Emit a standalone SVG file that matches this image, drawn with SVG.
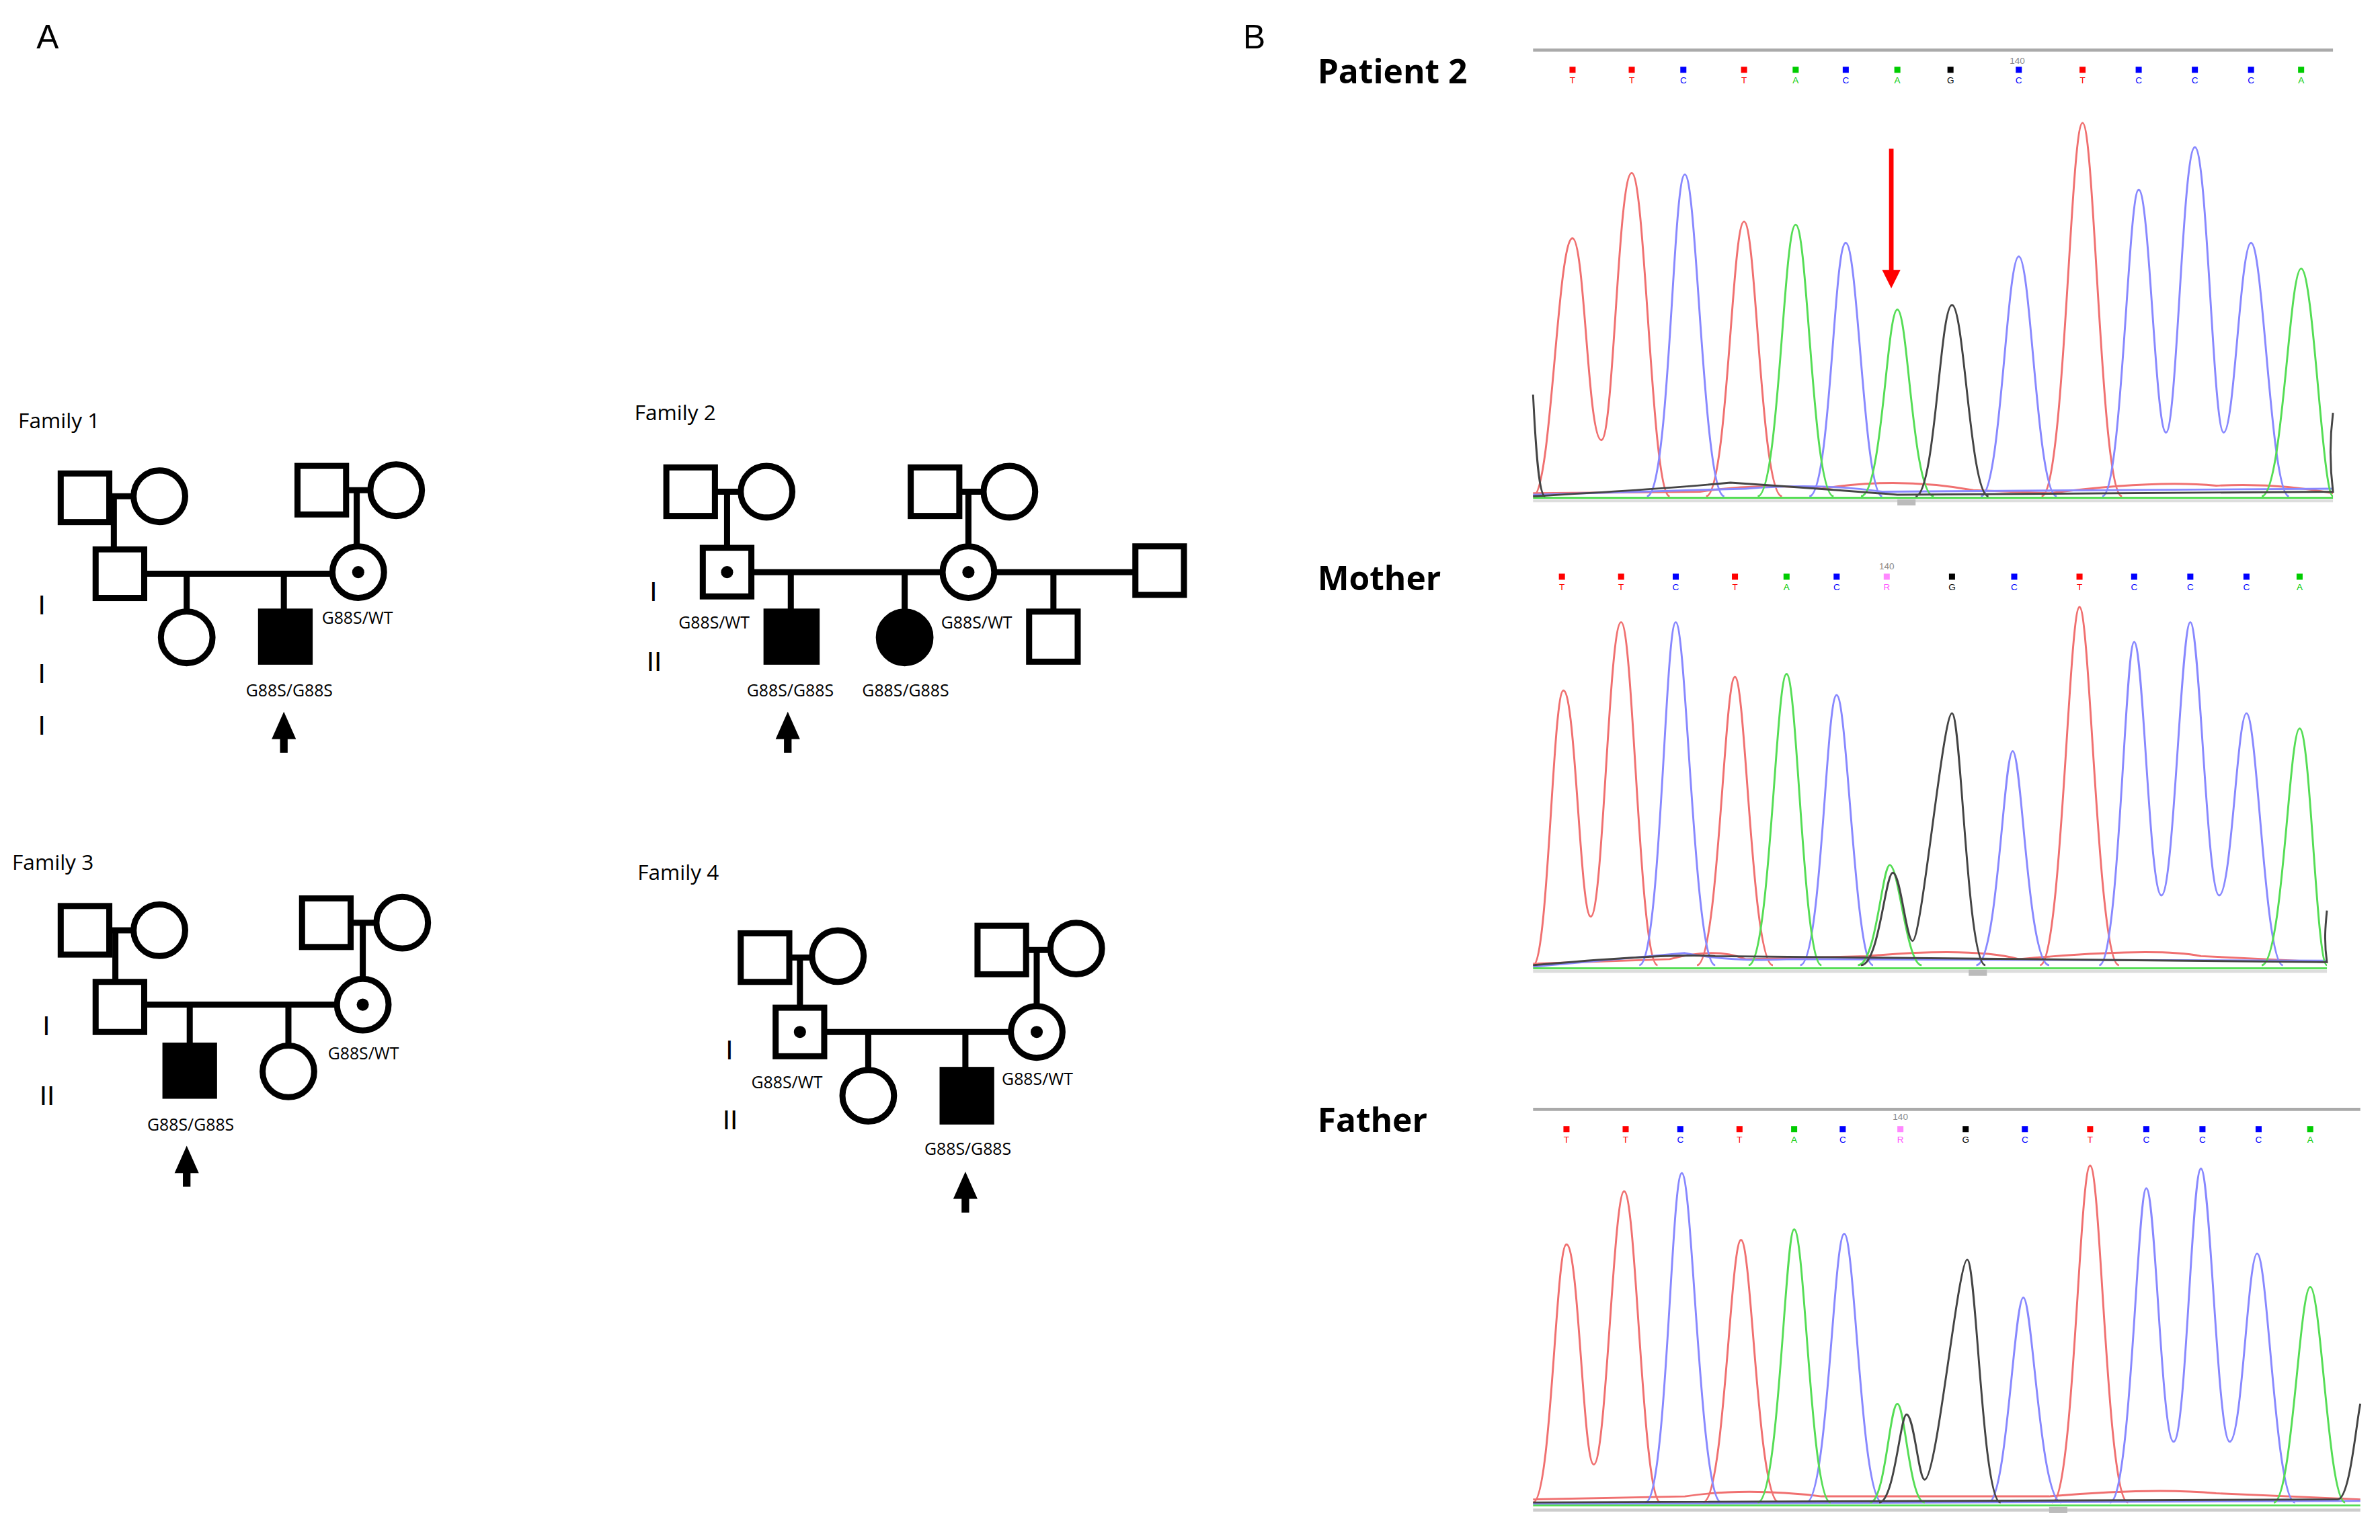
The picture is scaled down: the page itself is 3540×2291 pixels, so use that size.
<svg xmlns="http://www.w3.org/2000/svg" width="3540" height="2291" viewBox="0 0 3540 2291">
<style>
.s{fill:#fff;stroke:#000;stroke-width:4}
.f{fill:#000;stroke:#000;stroke-width:4}
.l{stroke:#000;stroke-width:4;fill:none}
.t{font-family:"Open Sans","Liberation Sans",sans-serif;font-size:11px;fill:#000}
.fam{font-family:"Open Sans","Liberation Sans",sans-serif;font-size:14px;fill:#000}
.g{font-family:"Liberation Sans",sans-serif;font-size:18px;fill:#000}
.p{font-family:"Open Sans","Liberation Sans",sans-serif;font-size:22px;font-weight:bold;fill:#000}
.R{stroke:#f07070;fill:none;stroke-width:1.3}
.B{stroke:#8888ff;fill:none;stroke-width:1.3}
.G{stroke:#55dd55;fill:none;stroke-width:1.3}
.K{stroke:#444;fill:none;stroke-width:1.3}
.m{font-family:"Liberation Sans",sans-serif;font-size:6px;text-anchor:middle}
</style>
<defs>
<g id="arr"><polygon points="0,-13 -8,5 8,5" fill="#000"/><rect x="-2.5" y="4" width="5" height="10" fill="#000"/></g>
</defs>
<rect width="3540" height="2291" fill="#fff"/>
<g transform="scale(2.2577)">
<text x="24" y="32" style="font-family:'Liberation Sans',sans-serif;font-size:22px">A</text>
<text x="819" y="32" style="font-family:'Liberation Sans',sans-serif;font-size:22px">B</text>

<g id="family1">
<text class="fam" x="12" y="282">Family 1</text>
<line class="l" x1="72" y1="327" x2="88" y2="327"/><line class="l" x1="75" y1="327" x2="75" y2="362"/>
<rect class="s" x="40" y="312" width="32" height="32"/><circle class="s" cx="105" cy="327" r="17"/>
<line class="l" x1="228" y1="323" x2="244" y2="323"/><line class="l" x1="235" y1="323" x2="235" y2="360"/>
<rect class="s" x="196" y="307" width="32" height="32"/><circle class="s" cx="261" cy="323" r="17"/>
<line class="l" x1="95" y1="378" x2="219" y2="378"/>
<line class="l" x1="123" y1="378" x2="123" y2="403"/><line class="l" x1="187" y1="378" x2="187" y2="402"/>
<rect class="s" x="63" y="362" width="32" height="32"/>
<circle class="s" cx="236" cy="377" r="17"/><circle cx="236" cy="377" r="4"/>
<circle class="s" cx="123" cy="420" r="17"/>
<rect class="f" x="172" y="403" width="32" height="33"/>
<text class="t" x="212" y="411">G88S/WT</text>
<text class="t" x="162" y="459">G88S/G88S</text>
<use href="#arr" x="187" y="482"/>
<text class="g" x="25" y="405">I</text><text class="g" x="25" y="450">I</text><text class="g" x="25" y="484">I</text>
</g>

<g id="family2">
<text class="fam" x="418" y="277">Family 2</text>
<line class="l" x1="471" y1="324" x2="488" y2="324"/><line class="l" x1="479" y1="324" x2="479" y2="362"/>
<rect class="s" x="439" y="308" width="32" height="32"/><circle class="s" cx="505" cy="324" r="17"/>
<line class="l" x1="632" y1="324" x2="648" y2="324"/><line class="l" x1="638" y1="324" x2="638" y2="360"/>
<rect class="s" x="600" y="308" width="32" height="32"/><circle class="s" cx="665" cy="324" r="17"/>
<line class="l" x1="495" y1="377" x2="748" y2="377"/>
<line class="l" x1="521" y1="377" x2="521" y2="402"/><line class="l" x1="596" y1="377" x2="596" y2="402"/><line class="l" x1="694" y1="377" x2="694" y2="402"/>
<rect class="s" x="463" y="361" width="32" height="32"/><circle cx="479" cy="377" r="4"/>
<circle class="s" cx="638" cy="377" r="17"/><circle cx="638" cy="377" r="4"/>
<rect class="s" x="748" y="360" width="32" height="32"/>
<rect class="f" x="505" y="403" width="33" height="33"/>
<ellipse class="f" cx="596" cy="420" rx="17" ry="17"/>
<rect class="s" x="678" y="403" width="32" height="33"/>
<text class="t" x="447" y="414">G88S/WT</text><text class="t" x="620" y="414">G88S/WT</text>
<text class="t" x="492" y="459">G88S/G88S</text><text class="t" x="568" y="459">G88S/G88S</text>
<use href="#arr" x="519" y="482"/>
<text class="g" x="428" y="396">I</text><text class="g" x="426" y="442">II</text>
</g>

<g id="family3">
<text class="fam" x="8" y="573">Family 3</text>
<line class="l" x1="72" y1="613" x2="88" y2="613"/><line class="l" x1="76" y1="613" x2="76" y2="647"/>
<rect class="s" x="40" y="597" width="32" height="32"/><circle class="s" cx="105" cy="613" r="17"/>
<line class="l" x1="231" y1="608" x2="248" y2="608"/><line class="l" x1="239" y1="608" x2="239" y2="645"/>
<rect class="s" x="199" y="592" width="32" height="32"/><circle class="s" cx="265" cy="608" r="17"/>
<line class="l" x1="95" y1="662" x2="222" y2="662"/>
<line class="l" x1="125" y1="662" x2="125" y2="688"/><line class="l" x1="190" y1="662" x2="190" y2="689"/>
<rect class="s" x="63" y="647" width="32" height="33"/>
<circle class="s" cx="239" cy="662" r="17"/><circle cx="239" cy="662" r="4"/>
<rect class="f" x="109" y="689" width="32" height="33"/>
<circle class="s" cx="190" cy="706" r="17"/>
<text class="t" x="216" y="698">G88S/WT</text>
<text class="t" x="97" y="745">G88S/G88S</text>
<use href="#arr" x="123" y="768"/>
<text class="g" x="28" y="682">I</text><text class="g" x="26" y="728">II</text>
</g>

<g id="family4">
<text class="fam" x="420" y="580">Family 4</text>
<line class="l" x1="520" y1="631" x2="536" y2="631"/><line class="l" x1="527" y1="631" x2="527" y2="664"/>
<rect class="s" x="488" y="615" width="32" height="32"/><circle class="s" cx="552" cy="630" r="17"/>
<line class="l" x1="676" y1="626" x2="692" y2="626"/><line class="l" x1="683" y1="626" x2="683" y2="663"/>
<rect class="s" x="644" y="610" width="32" height="32"/><circle class="s" cx="709" cy="625" r="17"/>
<line class="l" x1="543" y1="680" x2="667" y2="680"/>
<line class="l" x1="572" y1="680" x2="572" y2="705"/><line class="l" x1="636" y1="680" x2="636" y2="704"/>
<rect class="s" x="511" y="664" width="32" height="32"/><circle cx="527" cy="680" r="4"/>
<circle class="s" cx="683" cy="680" r="17"/><circle cx="683" cy="680" r="4"/>
<circle class="s" cx="572" cy="722" r="17"/>
<rect class="f" x="621" y="705" width="32" height="34"/>
<text class="t" x="495" y="717">G88S/WT</text><text class="t" x="660" y="715">G88S/WT</text>
<text class="t" x="609" y="761">G88S/G88S</text>
<use href="#arr" x="636" y="785"/>
<text class="g" x="478" y="698">I</text><text class="g" x="476" y="744">II</text>
</g>

<g id="chrom-patient">
<text class="p" x="868" y="55">Patient 2</text>
<line x1="1010" y1="33" x2="1537" y2="33" stroke="#aaa" stroke-width="2"/>
<text class="m" x="1329" y="42" fill="#888">140</text>
<g class="m">
<rect x="1034" y="44" width="4" height="4" fill="red"/><text x="1036" y="55" fill="red">T</text>
<rect x="1073" y="44" width="4" height="4" fill="red"/><text x="1075" y="55" fill="red">T</text>
<rect x="1107" y="44" width="4" height="4" fill="blue"/><text x="1109" y="55" fill="blue">C</text>
<rect x="1147" y="44" width="4" height="4" fill="red"/><text x="1149" y="55" fill="red">T</text>
<rect x="1181" y="44" width="4" height="4" fill="#0c0"/><text x="1183" y="55" fill="#0c0">A</text>
<rect x="1214" y="44" width="4" height="4" fill="blue"/><text x="1216" y="55" fill="blue">C</text>
<rect x="1248" y="44" width="4" height="4" fill="#0c0"/><text x="1250" y="55" fill="#0c0">A</text>
<rect x="1283" y="44" width="4" height="4" fill="#000"/><text x="1285" y="55">G</text>
<rect x="1328" y="44" width="4" height="4" fill="blue"/><text x="1330" y="55" fill="blue">C</text>
<rect x="1370" y="44" width="4" height="4" fill="red"/><text x="1372" y="55" fill="red">T</text>
<rect x="1407" y="44" width="4" height="4" fill="blue"/><text x="1409" y="55" fill="blue">C</text>
<rect x="1444" y="44" width="4" height="4" fill="blue"/><text x="1446" y="55" fill="blue">C</text>
<rect x="1481" y="44" width="4" height="4" fill="blue"/><text x="1483" y="55" fill="blue">C</text>
<rect x="1514" y="44" width="4" height="4" fill="#0c0"/><text x="1516" y="55" fill="#0c0">A</text>
</g>
<path class="R" d="M1010,327 C1022,327 1026,157 1036,157 C1044,157 1046,290 1055,290 C1063,290 1066,114 1075,114 C1084,114 1088,327 1100,327 M1124,327 C1138,327 1141,146 1149,146 C1157,146 1160,327 1174,327 M1345,327 C1360,327 1364,81 1372,81 C1380,81 1384,327 1398,327 M1010,325 L1120,324 Q1160,318 1200,322 Q1250,314 1300,323 L1350,325 Q1420,316 1460,320 Q1500,318 1537,325"/>
<path class="B" d="M1085,327 C1100,327 1102,115 1110,115 C1118,115 1122,327 1136,327 M1192,327 C1206,327 1208,160 1216,160 C1224,160 1228,327 1240,327 M1305,327 C1318,327 1322,169 1330,169 C1338,169 1342,327 1355,327 M1385,327 C1398,327 1402,125 1409,125 C1416,125 1420,285 1427,285 C1434,285 1438,97 1446,97 C1454,97 1458,285 1465,285 C1472,285 1476,160 1483,160 C1491,160 1496,327 1508,327 M1010,326 L1150,322 Q1200,318 1240,324 L1537,322"/>
<path class="G" d="M1158,327 C1172,327 1175,148 1183,148 C1191,148 1194,327 1208,327 M1226,327 C1240,327 1243,204 1250,204 C1257,204 1260,327 1274,327 M1490,327 C1504,327 1508,177 1516,177 C1524,177 1530,327 1537,327 M1010,328 L1537,328"/>
<path class="K" d="M1010,260 C1012,300 1014,327 1018,327 M1262,327 C1275,327 1278,201 1286,201 C1294,201 1298,327 1310,327 M1010,327 Q1100,322 1140,318 Q1200,322 1250,326 L1537,324 C1534,300 1536,280 1537,272"/>
<line x1="1010" y1="330" x2="1537" y2="330" stroke="#ddd" stroke-width="2"/>
<rect x="1250" y="329" width="12" height="4" fill="#bbb"/>
<line x1="1246" y1="98" x2="1246" y2="180" stroke="red" stroke-width="3"/>
<polygon points="1240,178 1252,178 1246,190" fill="red"/>
</g>

<g id="chrom-mother">
<text class="p" x="868" y="389">Mother</text>
<text class="m" x="1243" y="375" fill="#888">140</text>
<g class="m">
<rect x="1027" y="378" width="4" height="4" fill="red"/><text x="1029" y="389" fill="red">T</text>
<rect x="1066" y="378" width="4" height="4" fill="red"/><text x="1068" y="389" fill="red">T</text>
<rect x="1102" y="378" width="4" height="4" fill="blue"/><text x="1104" y="389" fill="blue">C</text>
<rect x="1141" y="378" width="4" height="4" fill="red"/><text x="1143" y="389" fill="red">T</text>
<rect x="1175" y="378" width="4" height="4" fill="#0c0"/><text x="1177" y="389" fill="#0c0">A</text>
<rect x="1208" y="378" width="4" height="4" fill="blue"/><text x="1210" y="389" fill="blue">C</text>
<rect x="1241" y="378" width="4" height="4" fill="#f8f"/><text x="1243" y="389" fill="#f5f">R</text>
<rect x="1284" y="378" width="4" height="4" fill="#000"/><text x="1286" y="389">G</text>
<rect x="1325" y="378" width="4" height="4" fill="blue"/><text x="1327" y="389" fill="blue">C</text>
<rect x="1368" y="378" width="4" height="4" fill="red"/><text x="1370" y="389" fill="red">T</text>
<rect x="1404" y="378" width="4" height="4" fill="blue"/><text x="1406" y="389" fill="blue">C</text>
<rect x="1441" y="378" width="4" height="4" fill="blue"/><text x="1443" y="389" fill="blue">C</text>
<rect x="1478" y="378" width="4" height="4" fill="blue"/><text x="1480" y="389" fill="blue">C</text>
<rect x="1513" y="378" width="4" height="4" fill="#0c0"/><text x="1515" y="389" fill="#0c0">A</text>
</g>
<path class="R" d="M1010,636 C1020,636 1023,455 1030,455 C1038,455 1041,604 1048,604 C1056,604 1060,410 1068,410 C1076,410 1080,636 1092,636 M1118,636 C1132,636 1136,446 1143,446 C1150,446 1154,636 1168,636 M1344,636 C1358,636 1363,400 1370,400 C1377,400 1382,636 1396,636 M1010,635 L1100,632 Q1130,624 1150,632 L1230,630 Q1300,624 1330,632 Q1420,624 1450,630 L1533,634"/>
<path class="B" d="M1080,636 C1094,636 1097,410 1104,410 C1111,410 1116,636 1130,636 M1186,636 C1200,636 1203,458 1210,458 C1217,458 1222,636 1234,636 M1302,636 C1316,636 1320,495 1326,495 C1332,495 1336,636 1350,636 M1383,636 C1396,636 1400,423 1406,423 C1412,423 1416,590 1424,590 C1432,590 1437,410 1443,410 C1449,410 1454,590 1462,590 C1470,590 1474,470 1480,470 C1487,470 1492,636 1504,636 M1010,637 L1110,628 Q1140,634 1180,632 L1533,633"/>
<path class="G" d="M1152,636 C1166,636 1170,444 1177,444 C1184,444 1188,636 1200,636 M1224,636 C1236,636 1240,570 1245,570 C1251,570 1256,636 1266,636 M1490,636 C1504,636 1508,480 1515,480 C1522,480 1526,636 1533,636 M1010,638 L1533,638"/>
<path class="K" d="M1226,636 C1238,636 1242,575 1247,575 C1252,575 1256,620 1260,620 C1266,620 1280,470 1286,470 C1292,470 1296,636 1308,636 M1010,636 Q1100,628 1130,630 L1533,634 C1531,620 1532,610 1533,600"/>
<line x1="1010" y1="640" x2="1533" y2="640" stroke="#ddd" stroke-width="2"/>
<rect x="1297" y="639" width="12" height="4" fill="#bbb"/>
</g>

<g id="chrom-father">
<text class="p" x="868" y="746">Father</text>
<line x1="1010" y1="731" x2="1555" y2="731" stroke="#aaa" stroke-width="2"/>
<text class="m" x="1252" y="738" fill="#888">140</text>
<g class="m">
<rect x="1030" y="742" width="4" height="4" fill="red"/><text x="1032" y="753" fill="red">T</text>
<rect x="1069" y="742" width="4" height="4" fill="red"/><text x="1071" y="753" fill="red">T</text>
<rect x="1105" y="742" width="4" height="4" fill="blue"/><text x="1107" y="753" fill="blue">C</text>
<rect x="1144" y="742" width="4" height="4" fill="red"/><text x="1146" y="753" fill="red">T</text>
<rect x="1180" y="742" width="4" height="4" fill="#0c0"/><text x="1182" y="753" fill="#0c0">A</text>
<rect x="1212" y="742" width="4" height="4" fill="blue"/><text x="1214" y="753" fill="blue">C</text>
<rect x="1250" y="742" width="4" height="4" fill="#f8f"/><text x="1252" y="753" fill="#f5f">R</text>
<rect x="1293" y="742" width="4" height="4" fill="#000"/><text x="1295" y="753">G</text>
<rect x="1332" y="742" width="4" height="4" fill="blue"/><text x="1334" y="753" fill="blue">C</text>
<rect x="1375" y="742" width="4" height="4" fill="red"/><text x="1377" y="753" fill="red">T</text>
<rect x="1412" y="742" width="4" height="4" fill="blue"/><text x="1414" y="753" fill="blue">C</text>
<rect x="1449" y="742" width="4" height="4" fill="blue"/><text x="1451" y="753" fill="blue">C</text>
<rect x="1486" y="742" width="4" height="4" fill="blue"/><text x="1488" y="753" fill="blue">C</text>
<rect x="1520" y="742" width="4" height="4" fill="#0c0"/><text x="1522" y="753" fill="#0c0">A</text>
</g>
<path class="R" d="M1010,990 C1022,990 1025,820 1032,820 C1040,820 1043,965 1050,965 C1058,965 1063,785 1070,785 C1078,785 1082,990 1094,990 M1122,990 C1136,990 1140,817 1147,817 C1154,817 1158,990 1172,990 M1352,990 C1366,990 1370,768 1377,768 C1384,768 1388,990 1402,990 M1010,988 L1110,986 Q1150,980 1200,986 L1350,986 Q1420,980 1460,984 L1555,988"/>
<path class="B" d="M1084,990 C1098,990 1101,773 1108,773 C1115,773 1120,990 1134,990 M1190,990 C1204,990 1208,813 1215,813 C1222,813 1226,990 1240,990 M1310,990 C1322,990 1327,855 1333,855 C1339,855 1344,990 1358,990 M1390,990 C1404,990 1408,783 1414,783 C1420,783 1424,950 1432,950 C1440,950 1444,770 1450,770 C1456,770 1461,950 1469,950 C1477,950 1481,826 1487,826 C1494,826 1499,990 1512,990 M1010,991 L1555,989"/>
<path class="G" d="M1158,990 C1172,990 1176,810 1182,810 C1189,810 1193,990 1206,990 M1232,990 C1242,990 1245,925 1250,925 C1255,925 1258,990 1268,990 M1498,990 C1510,990 1515,848 1522,848 C1529,848 1534,990 1545,990 M1010,992 L1555,992"/>
<path class="K" d="M1238,990 C1248,990 1252,932 1256,932 C1261,932 1264,975 1268,975 C1276,975 1290,830 1296,830 C1302,830 1306,990 1318,990 M1010,990 L1540,988 C1548,988 1552,940 1555,925"/>
<line x1="1010" y1="995" x2="1555" y2="995" stroke="#ccc" stroke-width="2"/>
<rect x="1350" y="993" width="12" height="4" fill="#bbb"/>
</g>
</g>
</svg>
